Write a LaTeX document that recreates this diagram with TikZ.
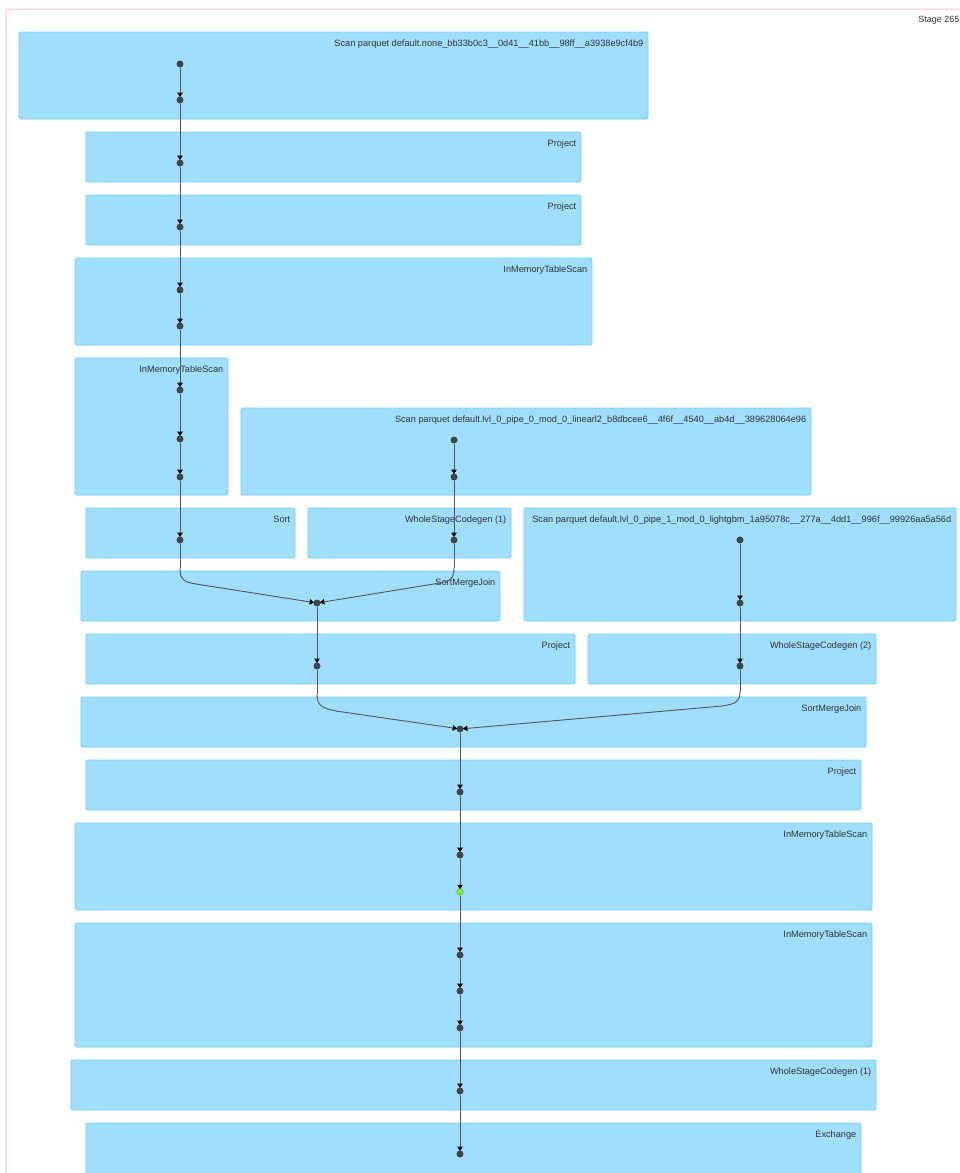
\documentclass[tikz,border=0pt]{standalone}
\usepackage{fontspec}
\setmainfont{Liberation Sans}
\usetikzlibrary{arrows.meta}
\definecolor{opfill}{HTML}{A0DEFE}
\definecolor{opline}{HTML}{72CDF8}
\definecolor{stageline}{HTML}{FFC0CF}
\definecolor{edgecol}{HTML}{555555}
\definecolor{dotcol}{HTML}{444444}
\definecolor{cachedfill}{HTML}{8CE63E}
\definecolor{cachedline}{HTML}{5FC42A}
\definecolor{txt}{HTML}{333333}
\tikzset{
  opbox/.style={fill=opfill, draw=opline, line width=0.8pt, rounded corners=1.5pt},
  lbl/.style={font=\fontsize{9.2}{10}\selectfont, text=txt, inner sep=0pt, anchor=base east},
  dot/.style={circle, fill=dotcol, inner sep=0pt, minimum size=7pt},
  cached/.style={circle, fill=cachedfill, draw=cachedline, line width=0.6pt, inner sep=0pt, minimum size=6.5pt},
  edge/.style={draw=edgecol, line width=0.9pt, shorten >=-0.8pt,
    -{Triangle[length=4.5pt,width=5.5pt,color=black]}},
  lead/.style={draw=edgecol, line width=0.9pt}
}
% operator box: name, x1, y1, x2, y2, label
\newcommand\opbox[6]{%
  \draw[opbox] (#2,#3) rectangle (#4,#5);
  \node[lbl] (#1) at (#4-4.5,#3+14.5) {#6};}
\begin{document}
\begin{tikzpicture}[x=1pt,y=-1pt]
\useasboundingbox (0,0) rectangle (960,1173);
\clip (0,0) rectangle (960,1173);
\fill[white] (0,0) rectangle (960,1173);
% stage cluster
\draw[stageline, line width=1pt, rounded corners=3pt] (6,1200) -- (6,9) -- (980,9);
\node[lbl, font=\fontsize{9}{10}\selectfont] (stage) at (959.5,22.5) {Stage 265};

% operators
\opbox{scanA}{19}{32}{648}{119}{Scan parquet default.none\_bb33b0c3\_\_0d41\_\_41bb\_\_98ff\_\_a3938e9cf4b9}
\opbox{projA}{86}{132}{581}{182}{Project}
\opbox{projB}{86}{195}{581}{245}{Project}
\opbox{imtsA}{75}{258}{592}{345}{InMemoryTableScan}
\opbox{imtsB}{75}{358}{228}{495}{InMemoryTableScan}
\opbox{scanB}{241}{408}{811}{495}{Scan parquet default.lvl\_0\_pipe\_0\_mod\_0\_linearl2\_b8dbcee6\_\_4f6f\_\_4540\_\_ab4d\_\_389628064e96}
\opbox{sortA}{86}{508}{295}{558}{Sort}
\opbox{wscgA}{308}{508}{511}{558}{WholeStageCodegen (1)}
\opbox{scanC}{524}{508}{956}{621}{Scan parquet default.lvl\_0\_pipe\_1\_mod\_0\_lightgbm\_1a95078c\_\_277a\_\_4dd1\_\_996f\_\_99926aa5a56d}
\opbox{smjA}{81}{571}{500}{621}{SortMergeJoin}
\opbox{projC}{86}{634}{575}{684}{Project}
\opbox{wscgB}{588}{634}{876}{684}{WholeStageCodegen (2)}
\opbox{smjB}{81}{697}{866}{747}{SortMergeJoin}
\opbox{projD}{86}{760}{861}{810}{Project}
\opbox{imtsC}{75}{823}{872}{910}{InMemoryTableScan}
\opbox{imtsD}{75}{923}{872}{1047}{InMemoryTableScan}
\opbox{wscgC}{71}{1060}{876}{1110}{WholeStageCodegen (1)}
\opbox{exch}{86}{1123}{861}{1190}{Exchange}

% RDD points, first branch
\foreach \n/\y in {1/64,2/100,3/163,4/227,5/290,6/326,7/390,8/439,9/477,10/540}
  \node[dot] (a\n) at (180,\y) {};
% second branch
\foreach \n/\y in {1/440,2/477,3/540}
  \node[dot] (b\n) at (454,\y) {};
% third branch
\foreach \n/\y in {1/540,2/603,3/666}
  \node[dot] (c\n) at (740,\y) {};
% joined stream
\node[dot] (j1) at (317,603) {};
\node[dot] (j1b) at (317,666) {};
\node[dot] (j2) at (460,729) {};
\foreach \n/\y in {1/792,2/855,4/955,5/991,6/1028,7/1091,8/1154}
  \node[dot] (d\n) at (460,\y) {};
\node[cached] (d3) at (460,892) {};

% vertical edges
\foreach \i/\j in {1/2,2/3,3/4,4/5,5/6,6/7,7/8,8/9,9/10}
  \draw[edge] (a\i) -- (a\j);
\foreach \i/\j in {1/2,2/3}
  \draw[edge] (b\i) -- (b\j);
\foreach \i/\j in {1/2,2/3}
  \draw[edge] (c\i) -- (c\j);
\draw[edge] (j1) -- (j1b);
\draw[edge] (j2) -- (d1);
\foreach \i/\j in {1/2,2/3,3/4,4/5,5/6,6/7,7/8}
  \draw[edge] (d\i) -- (d\j);

% curved merges into the joins
\coordinate (ja) at (180,568);
\coordinate (jb) at (454,568);
\draw[lead] (a10) -- (ja);
\draw[edge] (ja) .. controls (180,580) and (184,582) .. (196,584) -- (j1);
\draw[lead] (b3) -- (jb);
\draw[edge] (jb) .. controls (454,579) and (450,581) .. (440,583) -- (j1);

\coordinate (jc) at (317,694);
\coordinate (jd) at (740,692);
\draw[lead] (j1b) -- (jc);
\draw[edge] (jc) .. controls (317,706) and (322,708) .. (336,711) -- (j2);
\draw[lead] (c3) -- (jd);
\draw[edge] (jd) .. controls (740,702) and (735,704) .. (722,706) -- (j2);
\end{tikzpicture}
\end{document}
